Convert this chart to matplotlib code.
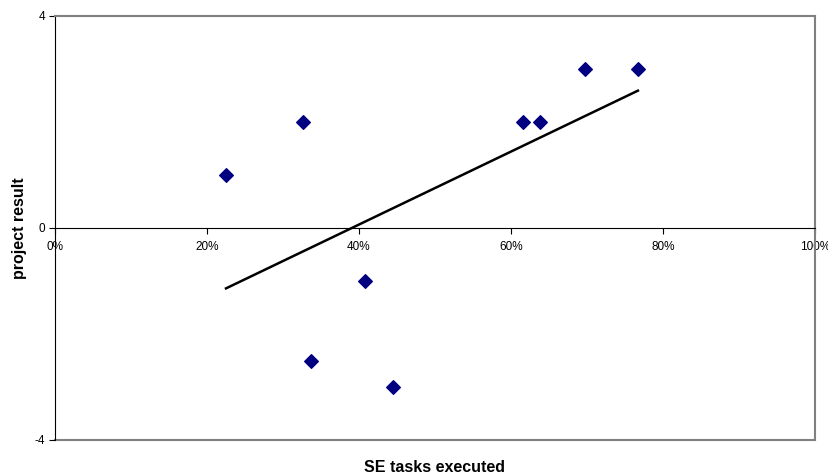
import numpy as np
import matplotlib
matplotlib.use('Agg')
import matplotlib.pyplot as plt
from matplotlib.ticker import PercentFormatter

plt.rcParams['font.family'] = ['Liberation Sans', 'DejaVu Sans']
plt.rcParams['axes.unicode_minus'] = False

# share of SE tasks executed vs project result
se_tasks = [0.225, 0.326, 0.337, 0.408, 0.445, 0.616, 0.638, 0.697, 0.767]
project_result = [1, 2, -2.5, -1, -3, 2, 2, 3, 3]

x = np.array(se_tasks)
y = np.array(project_result)
slope, intercept = np.polyfit(x, y, 1)

fig = plt.figure(figsize=(8.29, 4.75), dpi=100)
ax = fig.add_axes([55/829, 35/475, 760/829, 424/475])

ax.scatter(x, y, marker='D', s=48, color='#000080', zorder=3)
xl = np.array([x.min(), x.max()])
ax.plot(xl, intercept + slope*xl, '-', color='black', lw=1.8, zorder=2)

ax.set_xlim(0, 1)
ax.set_ylim(-4, 4)
ax.set_xticks(np.arange(0, 1.01, 0.2))
ax.xaxis.set_major_formatter(PercentFormatter(1.0, decimals=0))
ax.set_yticks([-4, 0, 4])

ax.spines['bottom'].set_position(('data', 0))
ax.spines['bottom'].set_color('black')
ax.spines['left'].set_color('black')
for s in ['top', 'right']:
    ax.spines[s].set_color('#808080')
    ax.spines[s].set_linewidth(1.5)
ax.axhline(-4, color='#808080', lw=1.5, clip_on=False, zorder=1)

ax.tick_params(axis='both', direction='out', length=4, width=0.8, labelsize=8.5, pad=3)
ax.tick_params(axis='x', pad=5)

ax.set_xlabel('SE tasks executed', fontsize=11.5, fontweight='bold', va='center')
ax.xaxis.set_label_coords(0.5, -0.064)
ax.set_ylabel('project result', fontsize=11.5, fontweight='bold', va='center')
ax.yaxis.set_label_coords(-35/760, 0.5)

plt.savefig('out.png', dpi=100)
